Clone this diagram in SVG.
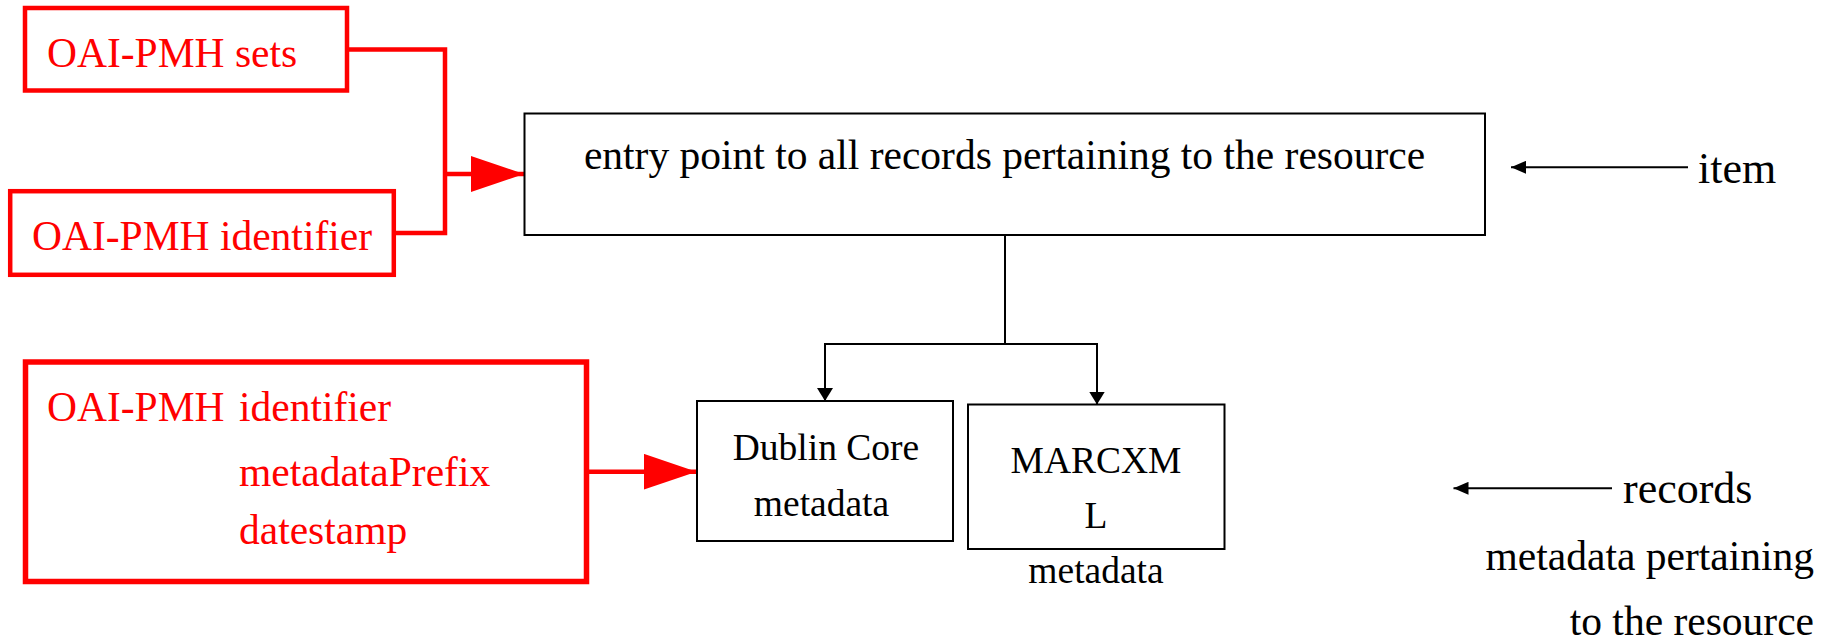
<svg xmlns="http://www.w3.org/2000/svg" width="1833" height="639" viewBox="0 0 1833 639" font-family="'Liberation Serif', 'Times New Roman', 'DejaVu Serif', serif">
  <style>
    .red-box { fill: none; stroke: #ff0000; stroke-width: 4.5; }
    .red-txt { fill: #ff0000; font-size: 41.5px; font-family: 'Liberation Serif', 'Times New Roman', 'DejaVu Serif', serif; }
    .blk-box { fill: #ffffff; stroke: #000000; stroke-width: 2; }
    .blk-txt { fill: #000000; font-size: 41.5px; font-family: 'Liberation Serif', 'Times New Roman', 'DejaVu Serif', serif; }
    .small-txt { fill: #000000; font-size: 37.5px; font-family: 'Liberation Serif', 'Times New Roman', 'DejaVu Serif', serif; }
    .label-txt { fill: #000000; font-size: 44px; font-family: 'Liberation Serif', 'Times New Roman', 'DejaVu Serif', serif; }
    .red-line { fill: none; stroke: #ff0000; stroke-width: 4.5; }
    .blk-line { fill: none; stroke: #000000; stroke-width: 2; }
  </style>
  <defs>
    <marker id="red-head" markerUnits="userSpaceOnUse" markerWidth="54" markerHeight="36" refX="53" refY="18" orient="auto">
      <path d="M0,0 L53,18 L0,36 Z" fill="#ff0000"/>
    </marker>
    <marker id="blk-head" markerUnits="userSpaceOnUse" markerWidth="14" markerHeight="16" refX="13" refY="8" orient="auto">
      <path d="M0,0 L13,8 L0,16 Z" fill="#000000"/>
    </marker>
    <marker id="label-head" markerUnits="userSpaceOnUse" markerWidth="16" markerHeight="13" refX="15" refY="6.5" orient="auto">
      <path d="M0,0 L15,6.5 L0,13 Z" fill="#000000"/>
    </marker>
  </defs>

  <rect width="1833" height="639" fill="#ffffff"/>

  <!-- connectors -->
  <g id="connectors">
    <path class="red-line" d="M349,49.5 H447.2 M445,47.2 V235.2 M396,233 H447.2"/>
    <path class="red-line" d="M445,174 H524" marker-end="url(#red-head)"/>
    <path class="red-line" d="M589,471.7 H696.5" marker-end="url(#red-head)"/>
    <path class="blk-line" d="M1005,235 V344 M824,344 H1098"/>
    <path class="blk-line" d="M825,343 V401" marker-end="url(#blk-head)"/>
    <path class="blk-line" d="M1097,343 V404.5" marker-end="url(#blk-head)"/>
    <path class="blk-line" d="M1688,167.3 H1511" marker-end="url(#label-head)"/>
    <path class="blk-line" d="M1612,488.3 H1453.5" marker-end="url(#label-head)"/>
  </g>

  <!-- request parameters -->
  <g id="node-sets">
    <rect class="red-box" x="25" y="8" width="322" height="82.5"/>
    <text class="red-txt" x="47" y="67">OAI-PMH sets</text>
  </g>
  <g id="node-identifier">
    <rect class="red-box" x="10.2" y="191.2" width="383.6" height="83.6"/>
    <text class="red-txt" x="32" y="250">OAI-PMH identifier</text>
  </g>
  <g id="node-record-keys">
    <rect class="red-box" x="25.5" y="362" width="561" height="219.5" style="stroke-width:5.5"/>
    <text class="red-txt" x="47" y="421">OAI-PMH</text>
    <text class="red-txt" x="239" y="421">identifier</text>
    <text class="red-txt" x="239" y="486">metadataPrefix</text>
    <text class="red-txt" x="239" y="544">datestamp</text>
  </g>

  <!-- item -->
  <g id="node-item">
    <rect class="blk-box" x="524.5" y="113.5" width="960.5" height="121.5"/>
    <text class="blk-txt" x="1004.5" y="169" text-anchor="middle">entry point to all records pertaining to the resource</text>
  </g>

  <!-- records -->
  <g id="node-dc">
    <rect class="blk-box" x="697" y="401" width="256" height="140"/>
    <text class="small-txt" x="826" y="460" text-anchor="middle">Dublin Core</text>
    <text class="small-txt" x="821.5" y="516" text-anchor="middle">metadata</text>
  </g>
  <g id="node-marcxml">
    <rect class="blk-box" x="968" y="404.5" width="256.5" height="144.5"/>
    <text class="small-txt" x="1096" y="473" text-anchor="middle">MARCXM</text>
    <text class="small-txt" x="1096" y="528" text-anchor="middle">L</text>
    <text class="small-txt" x="1096" y="583" text-anchor="middle">metadata</text>
  </g>

  <!-- side labels -->
  <g id="label-item">
    <text class="label-txt" x="1698" y="183">item</text>
  </g>
  <g id="label-records">
    <text class="label-txt" x="1623" y="503">records</text>
    <text class="blk-txt" x="1814" y="570" text-anchor="end">metadata pertaining</text>
    <text class="blk-txt" x="1814" y="635" text-anchor="end">to the resource</text>
  </g>
</svg>
